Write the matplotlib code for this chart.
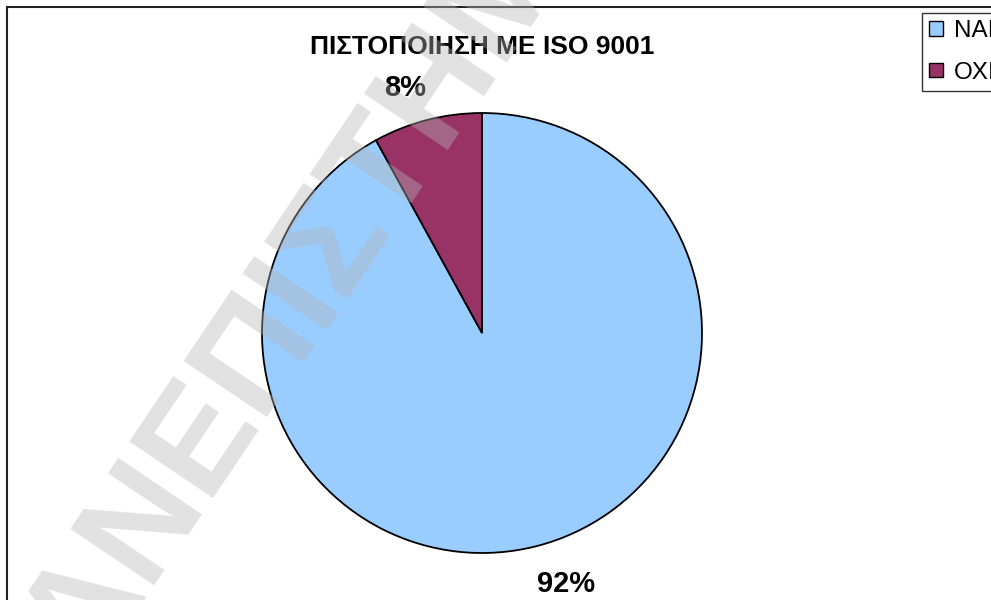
import matplotlib
matplotlib.use("Agg")
import matplotlib.pyplot as plt
from matplotlib.patches import Rectangle, Patch

# Daten
labels = ["ΝΑΙ", "ΟΧΙ"]
values = [92, 8]
pct_text = ["92%", "8%"]
colors = ["#99CCFF", "#993366"]
title = "ΠΙΣΤΟΠΟΙΗΣΗ ΜΕ ISO 9001"
watermark = "ΠΑΝΕΠΙΣΤΗΜΙΟ"

plt.rcParams['font.family'] = ['Liberation Sans', 'DejaVu Sans']

W, H = 991, 600
fig = plt.figure(figsize=(W / 100, H / 100), dpi=100)

# Rahmen des Diagramms (rechts/unten abgeschnitten)
fig.patches.append(Rectangle((7 / W, -0.05), 1.2, 1 - 7 / H + 0.05, transform=fig.transFigure,
                             fill=False, edgecolor="#222222", linewidth=1.5))

# Kreisdiagramm: Mittelpunkt (482, 333), Radius 220 px
cx, cy, r = 482, 333, 220
ax = fig.add_axes([(cx - r) / W, (H - cy - r) / H, 2 * r / W, 2 * r / H])
wedges, _ = ax.pie(values, colors=colors, startangle=90, counterclock=False,
                   wedgeprops=dict(edgecolor="black", linewidth=1.3))
ax.set_xlim(-1, 1)
ax.set_ylim(-1, 1)
ax.set_aspect("equal")
ax.axis("off")

# Prozentwerte
fig.text(566 / W, 1 - 584 / H, pct_text[0], ha="center", va="center",
         fontsize=21, fontweight="bold")
fig.text(405 / W, 1 - 88 / H, pct_text[1], ha="center", va="center",
         fontsize=21, fontweight="bold")

fig.text(482 / W, 1 - 47 / H, title, ha="center", va="center",
         fontsize=19, fontweight="bold")

# Legende
handles = [Patch(facecolor=c, edgecolor="black", linewidth=1.0) for c in colors]
leg = fig.legend(handles, labels, loc="lower left", bbox_to_anchor=(922 / W, 1 - 91 / H),
                 frameon=True, fancybox=False, fontsize=17.5, handlelength=0.55,
                 handleheight=0.55, handletextpad=0.45, labelspacing=0.8,
                 borderpad=0.3, borderaxespad=0)
leg.get_frame().set_edgecolor("black")
leg.get_frame().set_linewidth(1.0)

# Wasserzeichen
fig.text(27 / W, 1 - 759 / H, watermark, rotation=56, rotation_mode="anchor",
         ha="left", va="baseline", fontsize=105, fontweight="bold",
         color="#b5b5b5", alpha=0.4, zorder=10)

fig.savefig("out.png", dpi=100)
